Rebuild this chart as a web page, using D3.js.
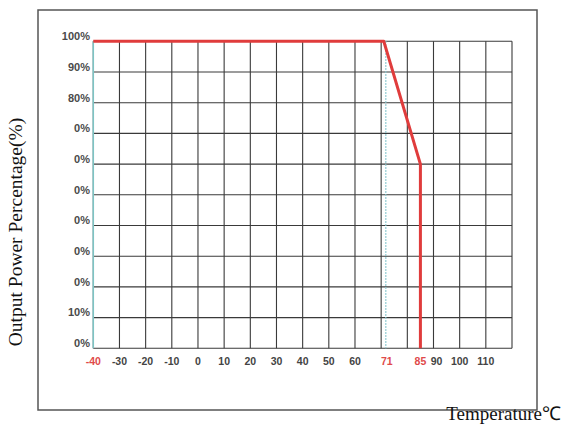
<!DOCTYPE html>
<html>
<head>
<meta charset="utf-8">
<script src="https://cdn.jsdelivr.net/npm/d3@7"></script>
<style>
  body { margin: 0; background: #fff; }
  svg { display: block; }
</style>
</head>
<body>
<svg id="chart" width="567" height="425"></svg>
<script>
// derating curve: temperature (C) vs output power (%)
const curveTemp = [-40, 71, 85, 85];
const curvePower = [100, 100, 60, 0];

const xTicks = [-40, -30, -20, -10, 0, 10, 20, 30, 40, 50, 60, 71, 85, 90, 100, 110];
const xRedTicks = [-40, 71, 85];
const xGrid = [-40, -30, -20, -10, 0, 10, 20, 30, 40, 50, 60, 70, 80, 90, 100, 110, 120];

const yTicks = [0, 10, 20, 30, 40, 50, 60, 70, 80, 90, 100];
const yTickLabels = ['0%', '10%', '0%', '0%', '0%', '0%', '0%', '0%', '80%', '90%', '100%'];

const limitTemp = 71;

const svg = d3.select('#chart');

// outer frame
svg.append('rect')
  .attr('x', 38).attr('y', 10)
  .attr('width', 499).attr('height', 400)
  .attr('fill', 'none')
  .attr('stroke', '#555')
  .attr('stroke-width', 1.5);

const x = d3.scaleLinear().domain([-40, 120]).range([93.3, 512]);
const y = d3.scaleLinear().domain([0, 100]).range([348.3, 41.3]);

const g = svg.append('g');

// grid
g.selectAll('.vgrid')
  .data(xGrid)
  .enter()
  .append('line')
  .attr('class', 'vgrid')
  .attr('x1', d => x(d)).attr('x2', d => x(d))
  .attr('y1', y(100)).attr('y2', y(0))
  .attr('stroke', '#3a3a3a')
  .attr('stroke-width', 1.1);

g.selectAll('.hgrid')
  .data(yTicks)
  .enter()
  .append('line')
  .attr('class', 'hgrid')
  .attr('x1', x(-40)).attr('x2', x(120))
  .attr('y1', d => y(d)).attr('y2', d => y(d))
  .attr('stroke', '#3a3a3a')
  .attr('stroke-width', 1.1);

// left axis line (teal)
g.append('line')
  .attr('x1', x(-40)).attr('x2', x(-40))
  .attr('y1', y(100)).attr('y2', y(0))
  .attr('stroke', '#7cc4c4')
  .attr('stroke-width', 1.5);

// dotted marker at 71
g.append('line')
  .attr('x1', x(limitTemp) + 2).attr('x2', x(limitTemp) + 2)
  .attr('y1', y(100)).attr('y2', y(0))
  .attr('stroke', '#8cc8d0')
  .attr('stroke-width', 1.5)
  .attr('stroke-dasharray', '1.5,1.5');

// curve
const pts = curveTemp.map((t, i) => ({ t: t, p: curvePower[i] }));
const line = d3.line()
  .x(d => x(d.t))
  .y(d => y(d.p));

g.append('path')
  .datum(pts)
  .attr('fill', 'none')
  .attr('stroke', '#e03c3c')
  .attr('stroke-width', 3)
  .attr('stroke-linejoin', 'round')
  .attr('d', line);

// y tick labels
g.selectAll('.ylab')
  .data(yTicks)
  .enter()
  .append('text')
  .attr('class', 'ylab')
  .attr('x', 90)
  .attr('y', d => y(d) - 5)
  .attr('dy', '0.35em')
  .attr('text-anchor', 'end')
  .style('font-family', 'Liberation Sans, Arial, sans-serif')
  .style('font-size', '11px')
  .style('font-weight', 'bold')
  .attr('fill', '#4a4a4a')
  .text((d, i) => yTickLabels[i]);

// x tick labels
g.selectAll('.xlab')
  .data(xTicks)
  .enter()
  .append('text')
  .attr('class', 'xlab')
  .attr('x', d => x(d) + (d === 71 ? 3 : d === 90 ? 3 : 0))
  .attr('y', 361)
  .attr('dy', '0.35em')
  .attr('text-anchor', 'middle')
  .style('font-family', 'Liberation Sans, Arial, sans-serif')
  .style('font-size', '10.5px')
  .style('font-weight', 'bold')
  .attr('fill', d => xRedTicks.includes(d) ? '#e04a4a' : '#444')
  .text(d => d);

// axis titles
svg.append('text')
  .attr('transform', 'translate(22,232) rotate(-90)')
  .attr('text-anchor', 'middle')
  .style('font-family', 'Liberation Serif, Times New Roman, serif')
  .style('font-size', '19.5px')
  .attr('fill', '#111')
  .text('Output Power Percentage(%)');

svg.append('text')
  .attr('x', 561)
  .attr('y', 420)
  .attr('text-anchor', 'end')
  .style('font-family', 'Liberation Serif, Times New Roman, serif')
  .style('font-size', '19px')
  .attr('fill', '#111')
  .text('Temperature℃');
</script>
</body>
</html>
